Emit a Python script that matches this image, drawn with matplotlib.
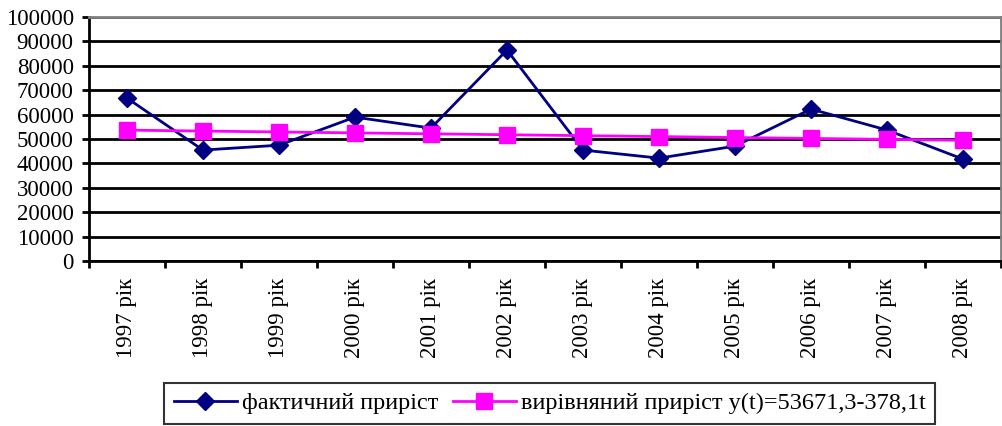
import numpy as np
import matplotlib.pyplot as plt

plt.rcParams['font.family'] = ['Liberation Serif', 'DejaVu Serif']

# Data
years = ['1997 рік', '1998 рік', '1999 рік', '2000 рік', '2001 рік', '2002 рік',
         '2003 рік', '2004 рік', '2005 рік', '2006 рік', '2007 рік', '2008 рік']
actual = [66800, 45500, 47500, 59000, 54500, 86500,
          45500, 42200, 47100, 62300, 53700, 41800]
fitted = [53671, 53293, 52915, 52537, 52159, 51781,
          51403, 51024, 50646, 50268, 49890, 49512]

fig = plt.figure(figsize=(10.03, 4.26), dpi=100)
ax = fig.add_axes([0.0887, 0.387, 0.9093, 0.573])

x = np.arange(len(years))
ax.plot(x, actual, color='#000080', lw=2, marker='D', ms=9,
        label='фактичний приріст')
ax.plot(x, fitted, color='#FF00FF', lw=2, marker='s', ms=11,
        label='вирівняний приріст y(t)=53671,3-378,1t')

ax.set_xlim(-0.5, len(years) - 0.5)
ax.set_ylim(0, 100000)
ax.set_yticks(np.arange(0, 100001, 10000))
ax.yaxis.grid(True, color='black', lw=2)
ax.set_axisbelow(True)

# category ticks sit between categories, labels in the middle
ax.set_xticks(np.arange(-0.5, len(years), 1))
ax.set_xticklabels([])
ax.set_xticks(x, minor=True)
ax.set_xticklabels(years, minor=True, rotation=90, fontsize=16.5)
ax.tick_params(axis='x', which='minor', length=0, pad=12)
ax.tick_params(axis='x', which='major', direction='out', length=5, width=2)
ax.tick_params(axis='y', direction='out', length=5, width=2, labelsize=16.5, pad=6)

for s in ['left', 'bottom']:
    ax.spines[s].set_linewidth(2)
    ax.spines[s].set_color('black')
for s in ['top', 'right']:
    ax.spines[s].set_linewidth(2)
    ax.spines[s].set_color('#808080')

leg = fig.legend(loc='center', bbox_to_anchor=(0.548, 0.053), ncol=2,
                 fontsize=17.5, frameon=True, fancybox=False, edgecolor='black',
                 handlelength=2.6, handletextpad=0.2, columnspacing=0.6,
                 borderpad=0.4)
leg.get_frame().set_linewidth(1.5)

fig.savefig('out.png', dpi=100)
